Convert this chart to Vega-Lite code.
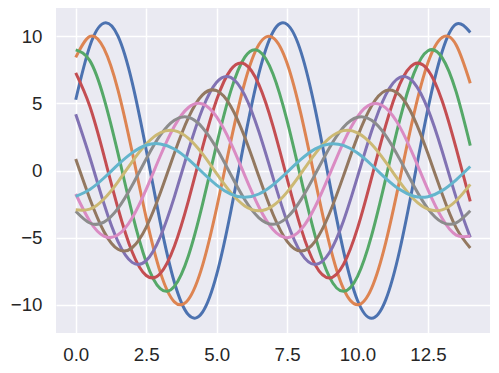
{
"$schema": "https://vega.github.io/schema/vega-lite/v6.json",
"width": 434, "height": 325,
"autosize": {"type": "none"},
"padding": {"left": 56, "top": 8, "right": 9, "bottom": 40},
"background": "white",
"config": {
 "view": {"fill": "#EAEAF2", "stroke": null},
 "axis": {"domain": false, "ticks": false, "tickSize": 0, "grid": true, "gridColor": "white", "gridWidth": 1.5, "gridOpacity": 1, "labelFont": "Liberation Sans", "labelFontSize": 18.7, "labelColor": "#262626", "title": null}
},
"data": {"values": [
{"x":0,"s":1,"y":5.27},{"x":0.5,"s":1,"y":9.26},{"x":1,"s":1,"y":10.97},{"x":1.5,"s":1,"y":10.00},{"x":2,"s":1,"y":6.58},{"x":2.5,"s":1,"y":1.55},{"x":3,"s":1,"y":-3.86},{"x":3.5,"s":1,"y":-8.32},{"x":4,"s":1,"y":-10.75},{"x":4.5,"s":1,"y":-10.55},{"x":5,"s":1,"y":-7.76},{"x":5.5,"s":1,"y":-3.07},{"x":6,"s":1,"y":2.37},{"x":6.5,"s":1,"y":7.23},{"x":7,"s":1,"y":10.32},{"x":7.5,"s":1,"y":10.88},{"x":8,"s":1,"y":8.78},{"x":8.5,"s":1,"y":4.53},{"x":9,"s":1,"y":-0.83},{"x":9.5,"s":1,"y":-5.98},{"x":10,"s":1,"y":-9.68},{"x":10.5,"s":1,"y":-11.00},{"x":11,"s":1,"y":-9.63},{"x":11.5,"s":1,"y":-5.90},{"x":12,"s":1,"y":-0.73},{"x":12.5,"s":1,"y":4.62},{"x":13,"s":1,"y":8.84},{"x":13.5,"s":1,"y":10.90},{"x":14,"s":1,"y":10.28},
{"x":0,"s":2,"y":8.42},{"x":0.5,"s":2,"y":9.98},{"x":1,"s":2,"y":9.09},{"x":1.5,"s":2,"y":5.99},{"x":2,"s":2,"y":1.41},{"x":2.5,"s":2,"y":-3.51},{"x":3,"s":2,"y":-7.57},{"x":3.5,"s":2,"y":-9.78},{"x":4,"s":2,"y":-9.59},{"x":4.5,"s":2,"y":-7.06},{"x":5,"s":2,"y":-2.79},{"x":5.5,"s":2,"y":2.15},{"x":6,"s":2,"y":6.57},{"x":6.5,"s":2,"y":9.38},{"x":7,"s":2,"y":9.89},{"x":7.5,"s":2,"y":7.99},{"x":8,"s":2,"y":4.12},{"x":8.5,"s":2,"y":-0.75},{"x":9,"s":2,"y":-5.44},{"x":9.5,"s":2,"y":-8.80},{"x":10,"s":2,"y":-10.00},{"x":10.5,"s":2,"y":-8.76},{"x":11,"s":2,"y":-5.37},{"x":11.5,"s":2,"y":-0.66},{"x":12,"s":2,"y":4.20},{"x":12.5,"s":2,"y":8.04},{"x":13,"s":2,"y":9.91},{"x":13.5,"s":2,"y":9.35},{"x":14,"s":2,"y":6.50},
{"x":0,"s":3,"y":8.98},{"x":0.5,"s":3,"y":8.18},{"x":1,"s":3,"y":5.39},{"x":1.5,"s":3,"y":1.27},{"x":2,"s":3,"y":-3.16},{"x":2.5,"s":3,"y":-6.81},{"x":3,"s":3,"y":-8.80},{"x":3.5,"s":3,"y":-8.63},{"x":4,"s":3,"y":-6.35},{"x":4.5,"s":3,"y":-2.51},{"x":5,"s":3,"y":1.94},{"x":5.5,"s":3,"y":5.91},{"x":6,"s":3,"y":8.44},{"x":6.5,"s":3,"y":8.90},{"x":7,"s":3,"y":7.19},{"x":7.5,"s":3,"y":3.71},{"x":8,"s":3,"y":-0.68},{"x":8.5,"s":3,"y":-4.90},{"x":9,"s":3,"y":-7.92},{"x":9.5,"s":3,"y":-9.00},{"x":10,"s":3,"y":-7.88},{"x":10.5,"s":3,"y":-4.83},{"x":11,"s":3,"y":-0.60},{"x":11.5,"s":3,"y":3.78},{"x":12,"s":3,"y":7.23},{"x":12.5,"s":3,"y":8.92},{"x":13,"s":3,"y":8.41},{"x":13.5,"s":3,"y":5.85},{"x":14,"s":3,"y":1.86},
{"x":0,"s":4,"y":7.27},{"x":0.5,"s":4,"y":4.79},{"x":1,"s":4,"y":1.13},{"x":1.5,"s":4,"y":-2.81},{"x":2,"s":4,"y":-6.05},{"x":2.5,"s":4,"y":-7.82},{"x":3,"s":4,"y":-7.67},{"x":3.5,"s":4,"y":-5.64},{"x":4,"s":4,"y":-2.24},{"x":4.5,"s":4,"y":1.72},{"x":5,"s":4,"y":5.26},{"x":5.5,"s":4,"y":7.50},{"x":6,"s":4,"y":7.92},{"x":6.5,"s":4,"y":6.39},{"x":7,"s":4,"y":3.30},{"x":7.5,"s":4,"y":-0.60},{"x":8,"s":4,"y":-4.35},{"x":8.5,"s":4,"y":-7.04},{"x":9,"s":4,"y":-8.00},{"x":9.5,"s":4,"y":-7.00},{"x":10,"s":4,"y":-4.29},{"x":10.5,"s":4,"y":-0.53},{"x":11,"s":4,"y":3.36},{"x":11.5,"s":4,"y":6.43},{"x":12,"s":4,"y":7.92},{"x":12.5,"s":4,"y":7.48},{"x":13,"s":4,"y":5.20},{"x":13.5,"s":4,"y":1.65},{"x":14,"s":4,"y":-2.30},
{"x":0,"s":5,"y":4.19},{"x":0.5,"s":5,"y":0.99},{"x":1,"s":5,"y":-2.46},{"x":1.5,"s":5,"y":-5.30},{"x":2,"s":5,"y":-6.84},{"x":2.5,"s":5,"y":-6.71},{"x":3,"s":5,"y":-4.94},{"x":3.5,"s":5,"y":-1.96},{"x":4,"s":5,"y":1.51},{"x":4.5,"s":5,"y":4.60},{"x":5,"s":5,"y":6.57},{"x":5.5,"s":5,"y":6.93},{"x":6,"s":5,"y":5.59},{"x":6.5,"s":5,"y":2.88},{"x":7,"s":5,"y":-0.53},{"x":7.5,"s":5,"y":-3.81},{"x":8,"s":5,"y":-6.16},{"x":8.5,"s":5,"y":-7.00},{"x":9,"s":5,"y":-6.13},{"x":9.5,"s":5,"y":-3.76},{"x":10,"s":5,"y":-0.46},{"x":10.5,"s":5,"y":2.94},{"x":11,"s":5,"y":5.63},{"x":11.5,"s":5,"y":6.93},{"x":12,"s":5,"y":6.54},{"x":12.5,"s":5,"y":4.55},{"x":13,"s":5,"y":1.45},{"x":13.5,"s":5,"y":-2.02},{"x":14,"s":5,"y":-4.98},
{"x":0,"s":6,"y":0.85},{"x":0.5,"s":6,"y":-2.10},{"x":1,"s":6,"y":-4.54},{"x":1.5,"s":6,"y":-5.87},{"x":2,"s":6,"y":-5.75},{"x":2.5,"s":6,"y":-4.23},{"x":3,"s":6,"y":-1.68},{"x":3.5,"s":6,"y":1.29},{"x":4,"s":6,"y":3.94},{"x":4.5,"s":6,"y":5.63},{"x":5,"s":6,"y":5.94},{"x":5.5,"s":6,"y":4.79},{"x":6,"s":6,"y":2.47},{"x":6.5,"s":6,"y":-0.45},{"x":7,"s":6,"y":-3.26},{"x":7.5,"s":6,"y":-5.28},{"x":8,"s":6,"y":-6.00},{"x":8.5,"s":6,"y":-5.25},{"x":9,"s":6,"y":-3.22},{"x":9.5,"s":6,"y":-0.40},{"x":10,"s":6,"y":2.52},{"x":10.5,"s":6,"y":4.82},{"x":11,"s":6,"y":5.94},{"x":11.5,"s":6,"y":5.61},{"x":12,"s":6,"y":3.90},{"x":12.5,"s":6,"y":1.24},{"x":13,"s":6,"y":-1.73},{"x":13.5,"s":6,"y":-4.27},{"x":14,"s":6,"y":-5.77},
{"x":0,"s":7,"y":-1.75},{"x":0.5,"s":7,"y":-3.78},{"x":1,"s":7,"y":-4.89},{"x":1.5,"s":7,"y":-4.79},{"x":2,"s":7,"y":-3.53},{"x":2.5,"s":7,"y":-1.40},{"x":3,"s":7,"y":1.08},{"x":3.5,"s":7,"y":3.29},{"x":4,"s":7,"y":4.69},{"x":4.5,"s":7,"y":4.95},{"x":5,"s":7,"y":3.99},{"x":5.5,"s":7,"y":2.06},{"x":6,"s":7,"y":-0.38},{"x":6.5,"s":7,"y":-2.72},{"x":7,"s":7,"y":-4.40},{"x":7.5,"s":7,"y":-5.00},{"x":8,"s":7,"y":-4.38},{"x":8.5,"s":7,"y":-2.68},{"x":9,"s":7,"y":-0.33},{"x":9.5,"s":7,"y":2.10},{"x":10,"s":7,"y":4.02},{"x":10.5,"s":7,"y":4.95},{"x":11,"s":7,"y":4.67},{"x":11.5,"s":7,"y":3.25},{"x":12,"s":7,"y":1.03},{"x":12.5,"s":7,"y":-1.44},{"x":13,"s":7,"y":-3.56},{"x":13.5,"s":7,"y":-4.81},{"x":14,"s":7,"y":-4.88},
{"x":0,"s":8,"y":-3.03},{"x":0.5,"s":8,"y":-3.91},{"x":1,"s":8,"y":-3.84},{"x":1.5,"s":8,"y":-2.82},{"x":2,"s":8,"y":-1.12},{"x":2.5,"s":8,"y":0.86},{"x":3,"s":8,"y":2.63},{"x":3.5,"s":8,"y":3.75},{"x":4,"s":8,"y":3.96},{"x":4.5,"s":8,"y":3.19},{"x":5,"s":8,"y":1.65},{"x":5.5,"s":8,"y":-0.30},{"x":6,"s":8,"y":-2.18},{"x":6.5,"s":8,"y":-3.52},{"x":7,"s":8,"y":-4.00},{"x":7.5,"s":8,"y":-3.50},{"x":8,"s":8,"y":-2.15},{"x":8.5,"s":8,"y":-0.27},{"x":9,"s":8,"y":1.68},{"x":9.5,"s":8,"y":3.22},{"x":10,"s":8,"y":3.96},{"x":10.5,"s":8,"y":3.74},{"x":11,"s":8,"y":2.60},{"x":11.5,"s":8,"y":0.83},{"x":12,"s":8,"y":-1.15},{"x":12.5,"s":8,"y":-2.85},{"x":13,"s":8,"y":-3.85},{"x":13.5,"s":8,"y":-3.90},{"x":14,"s":8,"y":-3.00},
{"x":0,"s":9,"y":-2.93},{"x":0.5,"s":9,"y":-2.88},{"x":1,"s":9,"y":-2.12},{"x":1.5,"s":9,"y":-0.84},{"x":2,"s":9,"y":0.65},{"x":2.5,"s":9,"y":1.97},{"x":3,"s":9,"y":2.81},{"x":3.5,"s":9,"y":2.97},{"x":4,"s":9,"y":2.40},{"x":4.5,"s":9,"y":1.24},{"x":5,"s":9,"y":-0.23},{"x":5.5,"s":9,"y":-1.63},{"x":6,"s":9,"y":-2.64},{"x":6.5,"s":9,"y":-3.00},{"x":7,"s":9,"y":-2.63},{"x":7.5,"s":9,"y":-1.61},{"x":8,"s":9,"y":-0.20},{"x":8.5,"s":9,"y":1.26},{"x":9,"s":9,"y":2.41},{"x":9.5,"s":9,"y":2.97},{"x":10,"s":9,"y":2.80},{"x":10.5,"s":9,"y":1.95},{"x":11,"s":9,"y":0.62},{"x":11.5,"s":9,"y":-0.86},{"x":12,"s":9,"y":-2.14},{"x":12.5,"s":9,"y":-2.88},{"x":13,"s":9,"y":-2.93},{"x":13.5,"s":9,"y":-2.25},{"x":14,"s":9,"y":-1.03},
{"x":0,"s":10,"y":-1.92},{"x":0.5,"s":10,"y":-1.41},{"x":1,"s":10,"y":-0.56},{"x":1.5,"s":10,"y":0.43},{"x":2,"s":10,"y":1.31},{"x":2.5,"s":10,"y":1.88},{"x":3,"s":10,"y":1.98},{"x":3.5,"s":10,"y":1.60},{"x":4,"s":10,"y":0.82},{"x":4.5,"s":10,"y":-0.15},{"x":5,"s":10,"y":-1.09},{"x":5.5,"s":10,"y":-1.76},{"x":6,"s":10,"y":-2.00},{"x":6.5,"s":10,"y":-1.75},{"x":7,"s":10,"y":-1.07},{"x":7.5,"s":10,"y":-0.13},{"x":8,"s":10,"y":0.84},{"x":8.5,"s":10,"y":1.61},{"x":9,"s":10,"y":1.98},{"x":9.5,"s":10,"y":1.87},{"x":10,"s":10,"y":1.30},{"x":10.5,"s":10,"y":0.41},{"x":11,"s":10,"y":-0.58},{"x":11.5,"s":10,"y":-1.42},{"x":12,"s":10,"y":-1.92},{"x":12.5,"s":10,"y":-1.95},{"x":13,"s":10,"y":-1.50},{"x":13.5,"s":10,"y":-0.69},{"x":14,"s":10,"y":0.30}
]},
"mark": {"type": "line", "strokeWidth": 3, "interpolate": "natural"},
"encoding": {
 "x": {"field": "x", "type": "quantitative", "scale": {"domain": [-0.7, 14.7], "nice": false, "zero": false}, "axis": {"values": [0, 2.5, 5, 7.5, 10, 12.5], "format": ".1f", "labelPadding": 12}},
 "y": {"field": "y", "type": "quantitative", "scale": {"domain": [-12.1, 12.1], "nice": false, "zero": false}, "axis": {"values": [-10, -5, 0, 5, 10], "format": "d", "labelPadding": 14}},
 "color": {"field": "s", "type": "nominal", "sort": null, "legend": null, "scale": {"domain": [1,2,3,4,5,6,7,8,9,10], "range": ["#4C72B0", "#DD8452", "#55A868", "#C44E52", "#8172B3", "#937860", "#DA8BC3", "#8C8C8C", "#CCB974", "#64B5CD"]}}
}
}
